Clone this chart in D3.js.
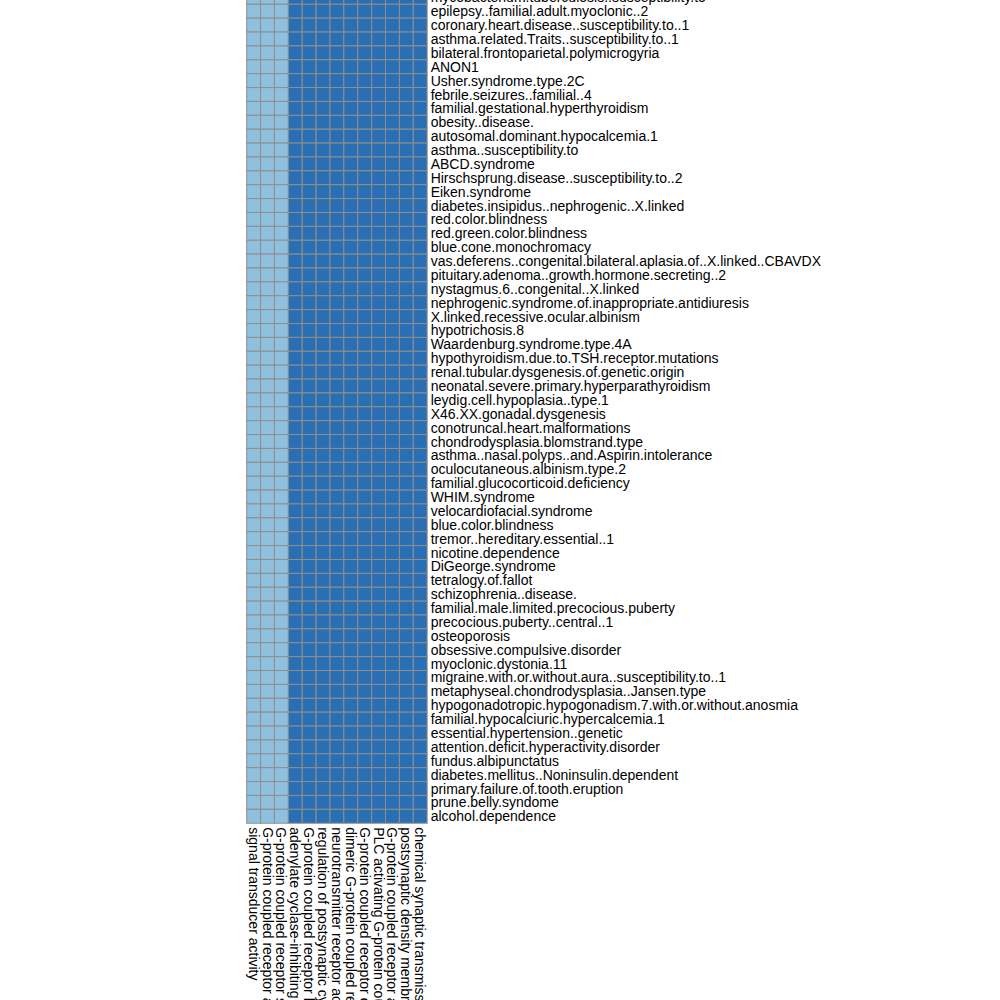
<!DOCTYPE html>
<html>
<head>
<meta charset="utf-8">
<script src="https://cdn.jsdelivr.net/npm/d3@7"></script>
<style>
  html, body { margin: 0; padding: 0; background: #ffffff; overflow: hidden; }
  svg { display: block; }
  text { font-family: "Liberation Sans", Arial, Helvetica, sans-serif; font-size: 14px; fill: #000; }
</style>
</head>
<body>
<svg id="chart" width="1000" height="1000"></svg>
<script>
// Column categories (GO terms), left to right
const columns = [
  "signal transducer activity",
  "G-protein coupled receptor activity",
  "G-protein coupled receptor signaling pathway",
  "adenylate cyclase-inhibiting G-protein coupled receptor signaling pathway",
  "G-protein coupled receptor ligand binding",
  "regulation of postsynaptic cytosolic calcium ion concentration",
  "neurotransmitter receptor activity",
  "dimeric G-protein coupled receptor signaling pathway",
  "G-protein coupled receptor complex",
  "PLC activating G-protein coupled receptor signaling pathway",
  "G-protein coupled receptor activity involved in signaling",
  "postsynaptic density membrane",
  "chemical synaptic transmission"
];

// Row categories (diseases), top to bottom
const rows = [
  "mycobacterium.tuberculosis..susceptibility.to",
  "epilepsy..familial.adult.myoclonic..2",
  "coronary.heart.disease..susceptibility.to..1",
  "asthma.related.Traits..susceptibility.to..1",
  "bilateral.frontoparietal.polymicrogyria",
  "ANON1",
  "Usher.syndrome.type.2C",
  "febrile.seizures..familial..4",
  "familial.gestational.hyperthyroidism",
  "obesity..disease.",
  "autosomal.dominant.hypocalcemia.1",
  "asthma..susceptibility.to",
  "ABCD.syndrome",
  "Hirschsprung.disease..susceptibility.to..2",
  "Eiken.syndrome",
  "diabetes.insipidus..nephrogenic..X.linked",
  "red.color.blindness",
  "red.green.color.blindness",
  "blue.cone.monochromacy",
  "vas.deferens..congenital.bilateral.aplasia.of..X.linked..CBAVDX",
  "pituitary.adenoma..growth.hormone.secreting..2",
  "nystagmus.6..congenital..X.linked",
  "nephrogenic.syndrome.of.inappropriate.antidiuresis",
  "X.linked.recessive.ocular.albinism",
  "hypotrichosis.8",
  "Waardenburg.syndrome.type.4A",
  "hypothyroidism.due.to.TSH.receptor.mutations",
  "renal.tubular.dysgenesis.of.genetic.origin",
  "neonatal.severe.primary.hyperparathyroidism",
  "leydig.cell.hypoplasia..type.1",
  "X46.XX.gonadal.dysgenesis",
  "conotruncal.heart.malformations",
  "chondrodysplasia.blomstrand.type",
  "asthma..nasal.polyps..and.Aspirin.intolerance",
  "oculocutaneous.albinism.type.2",
  "familial.glucocorticoid.deficiency",
  "WHIM.syndrome",
  "velocardiofacial.syndrome",
  "blue.color.blindness",
  "tremor..hereditary.essential..1",
  "nicotine.dependence",
  "DiGeorge.syndrome",
  "tetralogy.of.fallot",
  "schizophrenia..disease.",
  "familial.male.limited.precocious.puberty",
  "precocious.puberty..central..1",
  "osteoporosis",
  "obsessive.compulsive.disorder",
  "myoclonic.dystonia.11",
  "migraine.with.or.without.aura..susceptibility.to..1",
  "metaphyseal.chondrodysplasia..Jansen.type",
  "hypogonadotropic.hypogonadism.7.with.or.without.anosmia",
  "familial.hypocalciuric.hypercalcemia.1",
  "essential.hypertension..genetic",
  "attention.deficit.hyperactivity.disorder",
  "fundus.albipunctatus",
  "diabetes.mellitus..Noninsulin.dependent",
  "primary.failure.of.tooth.eruption",
  "prune.belly.syndome",
  "alcohol.dependence"
];

// Value of each column (identical for every row in the reference)
const columnValues = [1, 1, 1, 2, 2, 2, 2, 2, 2, 2, 2, 2, 2];

// Colour levels
const valueLevels = [1, 2];
const levelColors = ["#8fc0de", "#2a6eb4"];

(function () {
  const cells = [];
  rows.forEach(r => columns.forEach((c, j) => cells.push({ row: r, col: c, value: columnValues[j] })));

  const cellSize = 13.88;
  const gridLeft = 246.7;
  const gridBottom = 823.2;
  const gridTop = gridBottom - rows.length * cellSize;

  const x = d3.scaleBand().domain(columns).range([gridLeft, gridLeft + columns.length * cellSize]);
  const y = d3.scaleBand().domain(rows).range([gridTop, gridBottom]);
  const color = d3.scaleOrdinal().domain(valueLevels).range(levelColors);

  const svg = d3.select("#chart");

  svg.append("g")
    .selectAll("rect")
    .data(cells)
    .join("rect")
    .attr("x", d => x(d.col))
    .attr("y", d => y(d.row))
    .attr("width", x.bandwidth())
    .attr("height", y.bandwidth())
    .attr("fill", d => color(d.value))
    .attr("stroke", "#8e8e8e")
    .attr("stroke-width", 1);

  svg.append("g")
    .selectAll("text")
    .data(rows)
    .join("text")
    .attr("x", x.range()[1] + 3.5)
    .attr("y", d => y(d) + y.bandwidth() / 2)
    .attr("dominant-baseline", "central")
    .text(d => d);

  svg.append("g")
    .selectAll("text")
    .data(columns)
    .join("text")
    .attr("transform", d => `translate(${x(d) + x.bandwidth() / 2},${gridBottom + 4}) rotate(90)`)
    .attr("dominant-baseline", "central")
    .attr("text-anchor", "start")
    .text(d => d);
})();
</script>
</body>
</html>
